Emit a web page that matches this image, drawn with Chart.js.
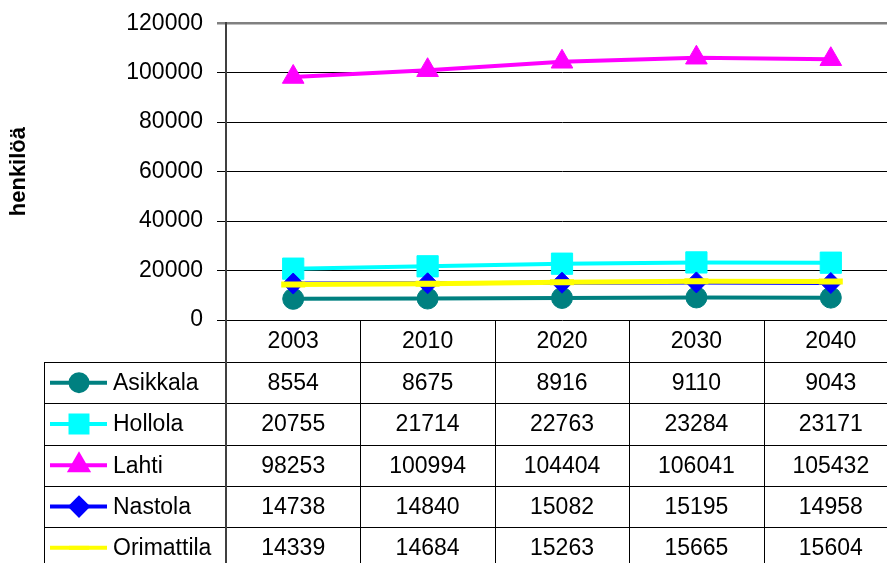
<!DOCTYPE html>
<html>
<head>
<meta charset="utf-8">
<script src="https://cdn.jsdelivr.net/npm/chart.js@4.4.1/dist/chart.umd.min.js"></script>
<style>
  html, body { margin: 0; padding: 0; background: #fff; overflow: hidden; }
  #wrap { position: absolute; left: 0; top: 0; width: 916px; height: 563px; }
</style>
</head>
<body>
<div id="wrap"><canvas id="chart" width="916" height="563"></canvas></div>
<script>
// ----- Data -----
const years = ['2003', '2010', '2020', '2030', '2040'];
const names = ['Asikkala', 'Hollola', 'Lahti', 'Nastola', 'Orimattila'];

const asikkala   = [8554, 8675, 8916, 9110, 9043];
const hollola    = [20755, 21714, 22763, 23284, 23171];
const lahti      = [98253, 100994, 104404, 106041, 105432];
const nastola    = [14738, 14840, 15082, 15195, 14958];
const orimattila = [14339, 14684, 15263, 15665, 15604];

const yTicks = [0, 20000, 40000, 60000, 80000, 100000, 120000];

// ----- Styles -----
const FONT = "'Liberation Sans', Arial, sans-serif";
const styles = [
  { color: '#008080', point: 'circle',  r: 10.5, lr: 8.5, pw: 1 },
  { color: '#00FFFF', point: 'rect',    r: 15,   lr: 12,  pw: 1 },
  { color: '#FF00FF', point: 'triangle', r: 12.5, lr: 10, pw: 1 },
  { color: '#0000FF', point: 'rectRot', r: 10.5, lr: 8.5, pw: 1 },
  { color: '#FFFF00', point: 'line',    r: 12,   lr: 10,  pw: 6 }
];
const series = [asikkala, hollola, lahti, nastola, orimattila];

const datasets = series.map((data, i) => ({
  label: names[i],
  data,
  borderColor: styles[i].color,
  backgroundColor: styles[i].color,
  borderWidth: i === 4 ? 5 : 4,
  pointStyle: styles[i].point,
  pointRadius: styles[i].r,
  pointBorderWidth: styles[i].pw,
  pointBorderColor: styles[i].color,
  pointBackgroundColor: styles[i].color,
  tension: 0,
  order: 5 - i
}));

// ----- Data table drawn under the plot, aligned to the x scale -----
const HEADER_H = 42;
const ROW_H = 41.3;
const TABLE_LEFT = 44;

const tablePlugin = {
  id: 'dataTable',
  afterDraw(chart) {
    const { ctx, chartArea, scales: { x } } = chart;
    const H = chart.height, W = chart.width;
    const top = chartArea.bottom;
    const half = (x.getPixelForValue(1) - x.getPixelForValue(0)) / 2;
    const rowsTop = top + HEADER_H;

    ctx.save();
    ctx.strokeStyle = '#000';
    ctx.lineWidth = 1;
    ctx.beginPath();
    // vertical separators between categories
    for (let i = 0; i < years.length; i++) {
      const px = Math.round(x.getPixelForValue(i) + half) + 0.5;
      ctx.moveTo(px, top);
      ctx.lineTo(px, H);
    }
    // left border of legend column
    ctx.moveTo(TABLE_LEFT + 0.5, rowsTop);
    ctx.lineTo(TABLE_LEFT + 0.5, H);
    // horizontal row lines
    for (let r = 0; r < names.length; r++) {
      const py = Math.round(rowsTop + r * ROW_H) + 0.5;
      ctx.moveTo(TABLE_LEFT, py);
      ctx.lineTo(W, py);
    }
    ctx.stroke();

    // y-axis line continues down through the table
    ctx.strokeStyle = '#404040';
    ctx.lineWidth = 2;
    ctx.beginPath();
    ctx.moveTo(chartArea.left, top);
    ctx.lineTo(chartArea.left, H);
    ctx.stroke();

    // rows: legend key + values
    ctx.font = '23px ' + FONT;
    ctx.fillStyle = '#000';
    ctx.textBaseline = 'middle';
    names.forEach((name, r) => {
      const cy = rowsTop + r * ROW_H + ROW_H / 2;
      const st = styles[r];
      ctx.strokeStyle = st.color;
      ctx.lineWidth = 4;
      ctx.beginPath();
      ctx.moveTo(50, cy);
      ctx.lineTo(107, cy);
      ctx.stroke();
      ctx.fillStyle = st.color;
      Chart.helpers.drawPoint(ctx, {
        pointStyle: st.point, radius: st.lr, borderWidth: st.pw, rotation: 0
      }, 79, cy);
      if (st.point !== 'line') ctx.fill();
      ctx.fillStyle = '#000';
      ctx.textAlign = 'left';
      ctx.fillText(name, 113, cy + 1);
      ctx.textAlign = 'center';
      series[r].forEach((v, i) => {
        ctx.fillText(String(v), x.getPixelForValue(i), cy + 1);
      });
    });
    ctx.restore();
  }
};

new Chart(document.getElementById('chart'), {
  type: 'line',
  data: { labels: years, datasets },
  options: {
    responsive: false,
    animation: false,
    layout: { padding: { top: 22, right: 5, left: 0, bottom: 0 } },
    plugins: { legend: { display: false }, tooltip: { enabled: false } },
    scales: {
      x: {
        offset: true,
        grid: { display: false, drawTicks: false },
        border: { display: false },
        ticks: { color: '#000', font: { family: FONT, size: 23 }, padding: 8 },
        afterFit: s => { s.height = 243; }
      },
      y: {
        min: 0,
        max: 120000,
        afterBuildTicks: s => { s.ticks = yTicks.map(v => ({ value: v })); },
        grid: {
          color: c => (c.tick && c.tick.value === 120000) ? '#808080' : '#000',
          lineWidth: c => (c.tick && c.tick.value === 120000) ? 2.5 : 1,
          tickLength: 9
        },
        border: { color: '#404040', width: 2 },
        ticks: {
          color: '#000',
          font: { family: FONT, size: 23, lineHeight: 0.8 },
          padding: 14,
          callback: v => String(v)
        },
        title: {
          display: true,
          text: 'henkilöä',
          color: '#000',
          font: { family: FONT, size: 22, weight: 'bold' },
          padding: { top: 6, bottom: 0 }
        },
        afterFit: s => { s.width = 226; }
      }
    }
  },
  plugins: [tablePlugin]
});
</script>
</body>
</html>
